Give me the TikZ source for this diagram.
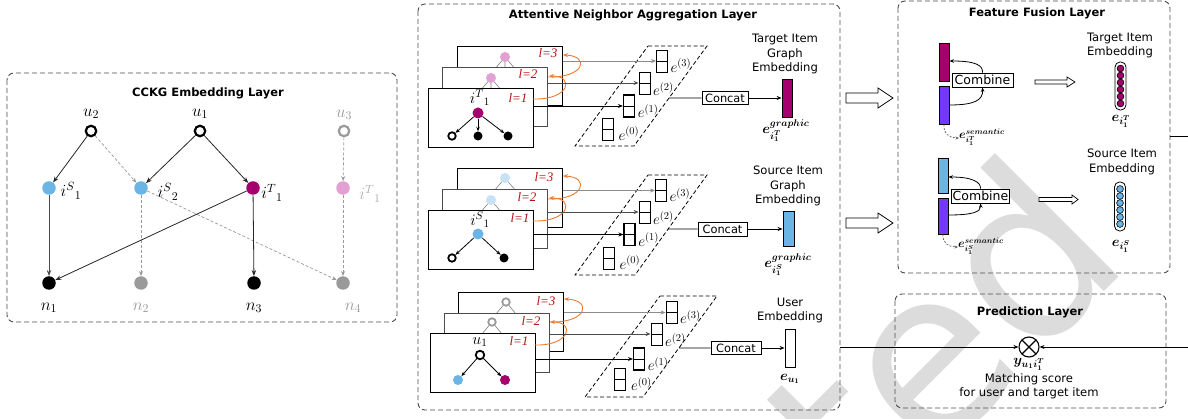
\RequirePackage{fix-cm}
\documentclass[tikz,border=0pt]{standalone}
\usepackage{amsmath}
\usepackage[no-math]{fontspec}
\setmainfont{DejaVu Sans}
\newfontfamily\serifit{Liberation Serif}
\usetikzlibrary{arrows.meta,calc}

\definecolor{magT}{HTML}{A6006E}
\definecolor{pinkT}{HTML}{E3A0D3}
\definecolor{blueS}{HTML}{6AB4E6}
\definecolor{blueL}{HTML}{C8E2F5}
\definecolor{violetE}{HTML}{7438FA}
\definecolor{gnode}{HTML}{9A9A9A}
\definecolor{lred}{HTML}{B81010}
\definecolor{orng}{HTML}{ED7D31}
\definecolor{wmark}{HTML}{DCDCDC}

\tikzset{
  panel/.style={draw=black!70, line width=0.9pt, dash pattern=on 5pt off 3pt, rounded corners=7pt},
  ttl/.style={font=\bfseries\fontsize{11.5}{13}\selectfont, inner sep=0},
  lab/.style={font=\fontsize{11.6}{14.3}\selectfont, align=center, inner sep=0},
  mlab/.style={font=\fontsize{17}{17}\selectfont, inner sep=0},
  blab/.style={font=\fontsize{14}{14}\selectfont\boldmath, inner sep=0},
  dot/.style={circle, inner sep=0, minimum size=13.5pt},
  ring/.style={circle, draw, line width=2.2pt, inner sep=0, minimum size=10.5pt},
  sdot/.style={circle, inner sep=0, minimum size=10pt},
  sring/.style={circle, draw, line width=1.8pt, inner sep=0, minimum size=7.5pt},
  sarrow/.style={-{Stealth[length=6pt,width=4.5pt]}, line width=0.8pt, draw=black!85},
  darrow/.style={-{Stealth[length=5pt,width=4pt]}, line width=0.7pt, draw=gnode, dash pattern=on 3pt off 2pt},
  karrow/.style={-{Stealth[length=4.5pt,width=3.5pt]}, line width=0.8pt},
  stub/.style={draw=black!50, line width=0.6pt},
  layerbox/.style={draw, line width=0.9pt, fill=white, minimum width=105pt, minimum height=59pt, inner sep=0, anchor=north west},
  vec/.style={draw, line width=0.8pt, fill=white, minimum width=11pt, minimum height=22pt, inner sep=0,
    path picture={\draw[line width=0.8pt] (path picture bounding box.west) -- (path picture bounding box.east);}},
  boxtxt/.style={draw, line width=0.8pt, fill=white, inner sep=0},
  lvl/.style={text=lred, font=\serifit\itshape\fontsize{13}{13}\selectfont, inner sep=0},
  orarrow/.style={draw=orng, line width=0.9pt, -{Stealth[length=5pt,width=4pt]}},
  feed/.style={line width=0.9pt, -{Stealth[length=5pt,width=4pt]}},
  elab/.style={font=\fontsize{15}{15}\selectfont, inner sep=0, anchor=base west},
  plg/.style={line width=0.8pt, dash pattern=on 4pt off 2.5pt},
  hollow/.style={draw, line width=0.8pt, fill=white, line join=miter},
  emb/.style={draw, line width=0.8pt, inner sep=0},
  pill/.style={draw, line width=0.8pt, rounded corners=5pt, inner sep=0, minimum width=11pt},
  pdot/.style={circle, draw, line width=0.6pt, inner sep=0, minimum size=6.8pt},
}

\begin{document}
\begin{tikzpicture}[x=1pt, y=-1pt]
\useasboundingbox (0,0) rectangle (1188,419);
\fill[white] (0,0) rectangle (1188,419);

% light grey stamp lettering in the background
\begin{scope}
\clip (0,0) rectangle (1188,419);
\node[rotate=45, anchor=base east, inner sep=0, text=wmark,
      font=\fontsize{230}{230}\selectfont] (stamp) at (1134,262) {ted};
\end{scope}

% ---------------- CCKG embedding layer ----------------
\draw[panel] (7,73) rectangle (397,322);
\node[ttl] (t1) at (208,93) {CCKG Embedding Layer};

\node[ring] (u2) at (91,131) {};
\node[ring] (u1) at (200,131) {};
\node[ring, draw=gnode] (u3) at (344,131) {};
\node[dot, fill=blueS] (is1) at (49,188) {};
\node[dot, fill=blueS] (is2) at (141,188) {};
\node[dot, fill=magT] (it1) at (253,188) {};
\node[dot, fill=pinkT] (it1g) at (343,188) {};
\node[dot, fill=black] (n1) at (49,283) {};
\node[dot, fill=gnode] (n2) at (141,283) {};
\node[dot, fill=black] (n3) at (254,283) {};
\node[dot, fill=gnode] (n4) at (343,283) {};

\node[mlab] (lu2) at (91,114) {$u_2$};
\node[mlab] (lu1) at (200,114) {$u_1$};
\node[mlab, text=gnode] (lu3) at (344,115) {$u_3$};
\node[mlab] (lis1) at (71,191) {$i^{S}{}_{1}$};
\node[mlab] (lis2) at (168,192) {$i^{S}{}_{2}$};
\node[mlab] (lit1) at (272,193) {$i^{T}{}_{1}$};
\node[mlab, text=gnode!80] (lit1g) at (370,194) {$i^{T}{}_{1}$};
\node[mlab] (ln1) at (49,308) {$n_1$};
\node[mlab, text=gnode] (ln2) at (141,308) {$n_2$};
\node[mlab] (ln3) at (254,308) {$n_3$};
\node[mlab, text=gnode] (ln4) at (353,308) {$n_4$};

\draw[sarrow] (u2) -- (is1);
\draw[darrow] (u2) -- (is2);
\draw[sarrow] (u1) -- (is2);
\draw[sarrow] (u1) -- (it1);
\draw[darrow] (u3) -- (it1g);
\draw[sarrow, draw=black!70] (is1) -- (n1);
\draw[darrow] (is2) -- (n2);
\draw[darrow] (is2) -- (n4);
\draw[sarrow] (it1) -- (n1);
\draw[sarrow] (it1) -- (n3);
\draw[darrow] (it1g) -- (n4);

% ---------------- attentive neighbour aggregation ----------------
\draw[panel] (418,4) rectangle (840,410);
\node[ttl] (t2) at (633,15) {Attentive Neighbor Aggregation Layer};

% target item stack
\node[layerbox] (tb3) at (457,46) {};
\node[sdot, fill=pinkT] (tp3) at (505,57) {};
\draw[stub] (tp3) -- ++(-11,13) (tp3) -- ++(0,13) (tp3) -- ++(11,13);
\node[layerbox, draw=black!70] (tb2) at (442,67) {};
\node[sdot, fill=pinkT] (tp2) at (491,78) {};
\draw[stub] (tp2) -- ++(-11,13) (tp2) -- ++(0,13) (tp2) -- ++(11,13);
\node[layerbox] (tb1) at (428,88) {};
\node[sdot, fill=magT, minimum size=11pt] (tp1) at (478,113) {};
\node[mlab, font=\fontsize{16}{16}\selectfont] (ltp1) at (480,98) {$i^{T}{}_{1}$};
\node[sring] (tc1) at (452,136) {};
\node[sdot, fill=black, minimum size=9pt] (tc2) at (478,136) {};
\node[sdot, fill=black, minimum size=9pt] (tc3) at (508,136) {};
\draw[karrow] (tp1) -- (tc1);
\draw[karrow] (tp1) -- (tc2);
\draw[karrow] (tp1) -- (tc3);
\node[lvl] (tl1) at (518,98) {l=1};
\node[lvl] (tl2) at (528,74) {l=2};
\node[lvl] (tl3) at (548,53) {l=3};
\draw[orarrow] (533,99) .. controls (570,100) and (575,76) .. (549,76);
\draw[orarrow] (548,77) .. controls (585,78) and (590,56) .. (563,55);

\coordinate (tpa) at (648,46);
\coordinate (tpb) at (707,46);
\coordinate (tpc) at (634,146);
\coordinate (tpd) at (575,146);
\draw[plg] (tpa) -- (tpb) -- (tpc) -- (tpd) -- cycle;
\node[vec] (te3) at (662,61) {};
\node[vec] (te2) at (644.5,83) {};
\node[vec, line width=1.1pt] (te1) at (629,106) {};
\node[vec] (te0) at (607.5,129) {};
\node[elab] (lte3) at ([xshift=2.5pt]te3.south east) {$e^{(3)}$};
\node[elab] (lte2) at ([xshift=2.5pt,yshift=-1.5pt]te2.south east) {$e^{(2)}$};
\node[elab] (lte1) at ([xshift=2.5pt]te1.south east) {$e^{(1)}$};
\node[elab] (lte0) at ([xshift=5pt]te0.south east) {$e^{(0)}$};
\draw[feed, draw=black!45] (tb3.east |- te3) -- (te3.west);
\draw[feed, draw=black!70] (tb2.east |- te2) -- (te2.west);
\draw[feed] (tb1.east |- te1) -- (te1.west);

\coordinate (tpr) at ($(tpb)!0.52!(tpc)$);
\node[boxtxt, minimum width=46pt, minimum height=13pt, font=\fontsize{11.4}{12}\selectfont] (tcat) at (725,98) {Concat};
\node[emb, fill=magT, minimum width=10pt, minimum height=38pt] (tge) at (787,98) {};
\draw[line width=0.9pt] (tpr) -- (tcat.west);
\draw[feed] (tcat) -- (tge);
\node[lab] (tgl) at (785,54) {Target Item\\Graph\\Embedding};
\node[blab] (tgs) at (786,131) {$e^{graphic}_{i^T_1}$};

% source item stack
\node[layerbox] (sb3) at (457,168) {};
\node[sdot, fill=blueL] (sp3) at (505,178) {};
\draw[stub] (sp3) -- ++(-11,13) (sp3) -- ++(11,13);
\node[layerbox, draw=black!70] (sb2) at (442,189) {};
\node[sdot, fill=blueL] (sp2) at (491,200) {};
\draw[stub] (sp2) -- ++(-11,13) (sp2) -- ++(11,13);
\node[layerbox] (sb1) at (428,210) {};
\node[sdot, fill=blueS, minimum size=11pt] (sp1) at (478,234) {};
\node[mlab, font=\fontsize{16}{16}\selectfont] (lsp1) at (480,220) {$i^{S}{}_{1}$};
\node[sring] (sc1) at (452,258) {};
\node[sdot, fill=black, minimum size=9pt] (sc2) at (504,258) {};
\draw[karrow] (sp1) -- (sc1);
\draw[karrow] (sp1) -- (sc2);
\node[lvl] (sl1) at (520,218) {l=1};
\node[lvl] (sl2) at (527,197) {l=2};
\node[lvl] (sl3) at (544,177) {l=3};
\draw[orarrow] (533,221) .. controls (570,222) and (575,198) .. (549,198);
\draw[orarrow] (548,199) .. controls (585,200) and (590,177) .. (563,176);

\coordinate (spa) at (648,175);
\coordinate (spb) at (707,175);
\coordinate (spc) at (635,275);
\coordinate (spd) at (575,275);
\draw[plg] (spa) -- (spb) -- (spc) -- (spd) -- cycle;
\node[vec] (se3) at (661,190.5) {};
\node[vec] (se2) at (644.5,212) {};
\node[vec, line width=1.1pt] (se1) at (629.5,234.5) {};
\node[vec] (se0) at (608.5,258) {};
\node[elab] (lse3) at ([xshift=2.5pt]se3.south east) {$e^{(3)}$};
\node[elab] (lse2) at ([xshift=2.5pt,yshift=-1.5pt]se2.south east) {$e^{(2)}$};
\node[elab] (lse1) at ([xshift=2.5pt]se1.south east) {$e^{(1)}$};
\node[elab] (lse0) at ([xshift=5pt]se0.south east) {$e^{(0)}$};
\draw[feed, draw=black!45] (sb3.east |- se3) -- (se3.west);
\draw[feed, draw=black!70] (sb2.east |- se2) -- (se2.west);
\draw[feed] (sb1.east |- se1) -- (se1.west);

\coordinate (spr) at ($(spb)!0.54!(spc)$);
\node[boxtxt, minimum width=49pt, minimum height=14pt, font=\fontsize{11.4}{12}\selectfont] (scat) at (722.5,229) {Concat};
\node[emb, fill=blueS, minimum width=11pt, minimum height=35pt] (sge) at (788.5,229) {};
\draw[line width=0.9pt] (spr) -- (scat.west);
\draw[feed] (scat) -- (sge);
\node[lab] (sgl) at (788,186) {Source Item\\Graph\\Embedding};
\node[blab] (sgs) at (788,265) {$e^{graphic}_{i^S_1}$};

% user stack
\node[layerbox] (ub3) at (458,292) {};
\node[sring, draw=gnode] (up3) at (506,302) {};
\draw[stub] (up3) -- ++(-10,12) (up3) -- ++(10,12);
\node[layerbox, draw=black!70] (ub2) at (444,313) {};
\node[sring, draw=gnode] (up2) at (492,322) {};
\draw[stub] (up2) -- ++(-10,12) (up2) -- ++(10,12);
\node[layerbox] (ub1) at (430,333) {};
\node[sring, minimum size=8.5pt] (up1) at (480,355) {};
\node[mlab, font=\fontsize{16}{16}\selectfont] (lup1) at (480,342) {$u_1$};
\node[sdot, fill=blueS] (uc1) at (458,380) {};
\node[sdot, fill=magT] (uc2) at (505,380) {};
\draw[karrow] (up1) -- (uc1);
\draw[karrow] (up1) -- (uc2);
\node[lvl] (ul1) at (519,341) {l=1};
\node[lvl] (ul2) at (531,321) {l=2};
\node[lvl] (ul3) at (546,301) {l=3};
\draw[orarrow] (535,345) .. controls (570,346) and (576,322) .. (550,322);
\draw[orarrow] (550,322) .. controls (588,323) and (592,300) .. (564,299);

\coordinate (upa) at (660,296);
\coordinate (upb) at (717,296);
\coordinate (upc) at (643,397);
\coordinate (upd) at (585,397);
\draw[plg] (upa) -- (upb) -- (upc) -- (upd) -- cycle;
\node[vec] (ue3) at (671.5,312.5) {};
\node[vec] (ue2) at (656.5,334) {};
\node[vec, line width=1.1pt] (ue1) at (639,359) {};
\node[vec] (ue0) at (620,379.5) {};
\node[elab] (lue3) at ([xshift=2.5pt]ue3.south east) {$e^{(3)}$};
\node[elab] (lue2) at ([xshift=2.5pt,yshift=-1.5pt]ue2.south east) {$e^{(2)}$};
\node[elab] (lue1) at ([xshift=2.5pt]ue1.south east) {$e^{(1)}$};
\node[elab] (lue0) at ([xshift=5pt]ue0.south east) {$e^{(0)}$};
\draw[feed, draw=black!45] (ub3.east |- ue3) -- (ue3.west);
\draw[feed, draw=black!70] (ub2.east |- ue2) -- (ue2.west);
\draw[feed] (ub1.east |- ue1) -- (ue1.west);

\coordinate (upr) at ($(upb)!0.515!(upc)$);
\node[boxtxt, minimum width=50pt, minimum height=13pt, font=\fontsize{11.4}{12}\selectfont] (ucat) at (736,348) {Concat};
\node[emb, fill=white, minimum width=10pt, minimum height=38pt] (uge) at (790,348) {};
\draw[line width=0.9pt] (upr) -- (ucat.west);
\draw[feed] (ucat) -- (uge);
\node[lab] (ugl) at (790,310.5) {User\\Embedding};
\node[blab] (ugs) at (790,379) {$e_{u_1}$};

% ---------------- hand-over arrows ----------------
\draw[hollow] (846,93) -- (878,93) -- (878,88) -- (893,98) -- (878,108) -- (878,103) -- (846,103) -- cycle;
\draw[hollow] (846,218) -- (878,218) -- (878,213) -- (893,223) -- (878,233) -- (878,228) -- (846,228) -- cycle;

% ---------------- feature fusion ----------------
\draw[panel] (898,1) rectangle (1170,273);
\node[ttl] (t3) at (1037,13) {Feature Fusion Layer};

\node[emb, fill=magT, minimum width=10pt, minimum height=38pt] (fg1) at (944,62) {};
\node[emb, fill=violetE, minimum width=10pt, minimum height=38pt] (fs1) at (944,105) {};
\node[boxtxt, minimum width=61pt, minimum height=14pt, font=\fontsize{12.5}{13}\selectfont] (cb1) at (982.5,80) {Combine};
\draw[karrow] (fs1.east |- 0,105) .. controls (975,105) and (983,100) .. (cb1.south);
\draw[karrow] (cb1.north) .. controls (983,65) and (975,61) .. (fg1.east |- 0,61);
\draw[darrow, draw=black!60, dash pattern=on 2pt off 1.5pt, -{Stealth[length=3.5pt,width=3pt]}] (fs1.south) .. controls (943,134) and (950,138) .. (959,138);
\node[blab, font=\fontsize{12}{12}\selectfont\boldmath, anchor=west] (fsl1) at (959,137) {$e^{semantic}_{i^T_1}$};
\draw[hollow, line width=0.7pt] (1035,80) -- (1067,80) -- (1067,77) -- (1075,82) -- (1067,87) -- (1067,84) -- (1035,84) -- cycle;
\node[lab] (ftl) at (1120,45.5) {Target Item\\Embedding};
\node[pill, minimum height=48pt] (tpill) at (1120.5,86) {};
\foreach \k in {0,...,5}
  \node[pdot, fill=magT] (tq\k) at (1120.5,68.5+\k*7) {};
\node[blab] (ftv) at (1121,121) {$e_{i^T_1}$};

\node[emb, fill=blueS, minimum width=10pt, minimum height=35pt] (fg2) at (943,175.5) {};
\node[emb, fill=violetE, minimum width=10pt, minimum height=36pt] (fs2) at (943,216) {};
\node[boxtxt, minimum width=58pt, minimum height=14pt, font=\fontsize{12.5}{13}\selectfont] (cb2) at (980.5,196) {Combine};
\draw[karrow] (fs2.east |- 0,215) .. controls (972,215) and (981,212) .. (cb2.south);
\draw[karrow] (cb2.north) .. controls (981,182) and (972,177) .. (fg2.east |- 0,177);
\draw[darrow, draw=black!60, dash pattern=on 2pt off 1.5pt, -{Stealth[length=3.5pt,width=3pt]}] (fs2.south) .. controls (942,243) and (949,247) .. (958,247);
\node[blab, font=\fontsize{12}{12}\selectfont\boldmath, anchor=west] (fsl2) at (958,246) {$e^{semantic}_{i^S_1}$};
\draw[hollow, line width=0.7pt] (1039,197.5) -- (1072,197.5) -- (1072,195) -- (1078,199.5) -- (1072,204) -- (1072,201.5) -- (1039,201.5) -- cycle;
\node[lab] (fsrc) at (1122,162) {Source Item\\Embedding};
\node[pill, minimum height=49pt] (spill) at (1120,206.5) {};
\foreach \k in {0,...,5}
  \node[pdot, fill=blueS] (sq\k) at (1120,189+\k*7) {};
\node[blab] (fsv) at (1121,246) {$e_{i^S_1}$};

\coordinate (ffr) at (1170,136);
\coordinate (redge) at (1188,136);
\draw[line width=0.9pt] (ffr) -- (redge);

% ---------------- prediction ----------------
\draw[panel] (895,294) rectangle (1166,408);
\node[ttl] (t4) at (1030,312) {Prediction Layer};
\node[circle, draw, line width=1.1pt, minimum size=20pt, inner sep=0,
      path picture={\draw[line width=1.1pt] (path picture bounding box.north west) -- (path picture bounding box.south east)
                    (path picture bounding box.north east) -- (path picture bounding box.south west);}] (ot) at (1029,347) {};
\coordinate (uin) at (840,347);
\coordinate (rin) at (1188,347);
\draw[feed] (uin) -- (ot);
\draw[feed] (rin) -- (ot);
\node[blab] (yl) at (1029,364) {$y_{u_1 i^T_1}$};
\node[lab] (ms) at (1029,386) {Matching score\\for user and target item};
\end{tikzpicture}
\end{document}
